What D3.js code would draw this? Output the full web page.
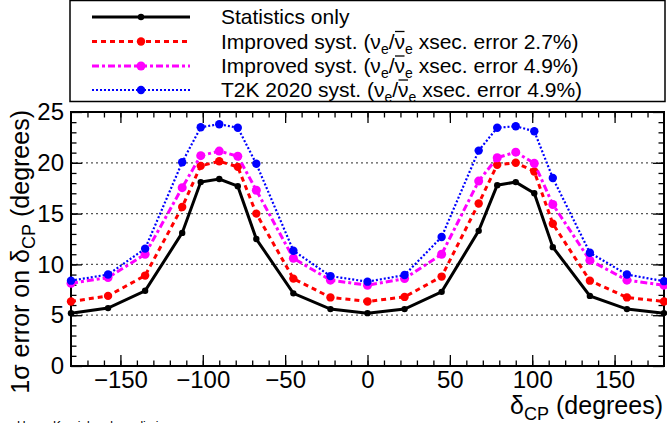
<!DOCTYPE html>
<html>
<head>
<meta charset="utf-8">
<script src="https://cdn.jsdelivr.net/npm/d3@7"></script>
<style>
  body { margin: 0; background: #fff; }
  svg { display: block; font-family: "Liberation Sans", Arial, sans-serif; }
</style>
</head>
<body>
<div id="chart"></div>
<script>
// delta_CP values (degrees)
const deltaCP = [-180, -157.5, -135, -112.5, -101.25, -90, -78.75, -67.5, -45, -22.5, 0,
                 22.5, 45, 67.5, 78.75, 90, 101.25, 112.5, 135, 157.5, 180];

// 1 sigma error on delta_CP (degrees)
const statOnly   = [5.2, 5.7, 7.4, 13.1, 18.1, 18.4, 17.7, 12.5, 7.15, 5.6, 5.2,
                    5.6, 7.3, 13.3, 17.8, 18.1, 17.0, 11.7, 6.9, 5.6, 5.2];
const improved27 = [6.35, 6.9, 8.9, 15.65, 19.7, 20.15, 19.6, 15.0, 8.6, 6.75, 6.35,
                    6.8, 8.8, 16.0, 19.8, 20.0, 19.15, 14.0, 8.4, 6.75, 6.35];
const improved49 = [8.15, 8.7, 11.0, 17.55, 20.7, 21.15, 20.65, 17.3, 10.6, 8.45, 7.95,
                    8.6, 11.0, 18.2, 20.5, 21.05, 19.95, 15.9, 10.4, 8.45, 7.95];
const t2k2020    = [8.4, 9.0, 11.55, 20.05, 23.5, 23.8, 23.45, 19.9, 11.35, 8.85, 8.3,
                    8.95, 12.7, 21.2, 23.45, 23.6, 23.1, 18.5, 11.15, 9.0, 8.35];

const xTicks = [-150, -100, -50, 0, 50, 100, 150];
const yTicks = [0, 5, 10, 15, 20, 25];

const seriesNames = [
  "Statistics only",
  "Improved syst. (ν_e/ν̄_e xsec. error 2.7%)",
  "Improved syst. (ν_e/ν̄_e xsec. error 4.9%)",
  "T2K 2020 syst. (ν_e/ν̄_e xsec. error 4.9%)"
];
const seriesValues = [statOnly, improved27, improved49, t2k2020];
const seriesStyle = [
  { color: "#000000", width: 3, dash: null, r: 3.2 },
  { color: "#ff0000", width: 3, dash: "5,4", r: 4.2 },
  { color: "#ff00ff", width: 3, dash: "7,3,3,3", r: 4.5 },
  { color: "#0000ff", width: 2.2, dash: "2,2", r: 4.2 }
];

const width = 667, height = 423;
const plot = { left: 71, right: 664, top: 112, bottom: 366 };

const svg = d3.select("#chart").append("svg")
  .attr("width", width)
  .attr("height", height);

const x = d3.scaleLinear().domain([-180, 180]).range([plot.left, plot.right]);
const y = d3.scaleLinear().domain([0, 25]).range([plot.bottom, plot.top]);

// Horizontal dotted grid
svg.append("g")
  .selectAll("line")
  .data(yTicks.filter(d => d > 0 && d < 25))
  .enter().append("line")
  .attr("x1", plot.left).attr("x2", plot.right)
  .attr("y1", d => y(d)).attr("y2", d => y(d))
  .attr("stroke", "#555")
  .attr("stroke-width", 1.2)
  .attr("stroke-dasharray", "2,3");

// Axes: major + minor ticks, pointing inwards
function drawAxis(axis, transform) {
  const g = svg.append("g").attr("transform", transform).call(axis);
  g.select(".domain").remove();
  g.selectAll(".tick line").attr("stroke", "#000").attr("stroke-width", 1.3);
  return g;
}
const minorX = d3.range(-170, 180, 10);
const minorY = d3.range(1, 25, 1);

// bottom
let gx = drawAxis(d3.axisBottom(x).tickValues(xTicks).tickSize(-11).tickPadding(5), `translate(0,${plot.bottom})`);
gx.selectAll("text").attr("font-size", 24).attr("fill", "#000").attr("dy", "0.71em");
drawAxis(d3.axisBottom(x).tickValues(minorX).tickSize(-5.5).tickFormat(""), `translate(0,${plot.bottom})`);
// top
drawAxis(d3.axisTop(x).tickValues(xTicks).tickSize(-11).tickFormat(""), `translate(0,${plot.top})`);
drawAxis(d3.axisTop(x).tickValues(minorX).tickSize(-5.5).tickFormat(""), `translate(0,${plot.top})`);
// left
let gy = drawAxis(d3.axisLeft(y).tickValues(yTicks).tickSize(-11).tickPadding(8), `translate(${plot.left},0)`);
gy.selectAll("text").attr("font-size", 24).attr("fill", "#000").attr("x", -7);
drawAxis(d3.axisLeft(y).tickValues(minorY).tickSize(-5.5).tickFormat(""), `translate(${plot.left},0)`);
// right
drawAxis(d3.axisRight(y).tickValues(yTicks).tickSize(-11).tickFormat(""), `translate(${plot.right},0)`);
drawAxis(d3.axisRight(y).tickValues(minorY).tickSize(-5.5).tickFormat(""), `translate(${plot.right},0)`);

// Frame
svg.append("rect")
  .attr("x", plot.left).attr("y", plot.top)
  .attr("width", plot.right - plot.left).attr("height", plot.bottom - plot.top)
  .attr("fill", "none").attr("stroke", "#000").attr("stroke-width", 2);

// Series lines and markers
const line = d3.line().x((d, i) => x(deltaCP[i])).y(d => y(d));
seriesValues.forEach((vals, k) => {
  const st = seriesStyle[k];
  svg.append("path")
    .datum(vals)
    .attr("d", line)
    .attr("fill", "none")
    .attr("stroke", st.color)
    .attr("stroke-width", st.width)
    .attr("stroke-dasharray", st.dash);
  svg.append("g").selectAll("circle")
    .data(vals)
    .enter().append("circle")
    .attr("cx", (d, i) => x(deltaCP[i]))
    .attr("cy", d => y(d))
    .attr("r", st.r)
    .attr("fill", st.color);
});

// Axis titles
const xt = svg.append("text")
  .attr("x", 663).attr("y", 414)
  .attr("text-anchor", "end")
  .attr("font-size", 25);
xt.append("tspan").text("δ");
xt.append("tspan").attr("font-size", 18).attr("dy", 6).text("CP");
xt.append("tspan").attr("dy", -6).text(" (degrees)");

const yt = svg.append("text")
  .attr("transform", "translate(29,110) rotate(-90)")
  .attr("text-anchor", "end")
  .attr("font-size", 25);
yt.append("tspan").text("1σ error on δ");
yt.append("tspan").attr("font-size", 18).attr("dy", 6).text("CP");
yt.append("tspan").attr("dy", -6).text(" (degrees)");

// Cut-off label at the bottom edge
svg.append("text")
  .attr("x", 17).attr("y", 430)
  .attr("font-size", 12)
  .attr("fill", "#000")
  .text("Hyper-Kamiokande preliminary");

// Legend
const legend = svg.append("g");
legend.append("rect")
  .attr("x", plot.left - 1).attr("y", 0.5)
  .attr("width", 665 - plot.left + 1).attr("height", 101)
  .attr("fill", "#fff").attr("stroke", "#000").attr("stroke-width", 1.5);

const rowBase = [24, 48.5, 73, 97];
seriesNames.forEach((name, k) => {
  const st = seriesStyle[k];
  const ly = rowBase[k] - 7;
  legend.append("line")
    .attr("x1", 92).attr("x2", 190).attr("y1", ly).attr("y2", ly)
    .attr("stroke", st.color).attr("stroke-width", st.width)
    .attr("stroke-dasharray", st.dash);
  legend.append("circle")
    .attr("cx", 141).attr("cy", ly).attr("r", st.r).attr("fill", st.color);

  const t = legend.append("text")
    .attr("x", 221).attr("y", rowBase[k])
    .attr("font-size", 21);
  if (k === 0) {
    t.text(name);
  } else {
    const pre = name.split("(")[0];
    const pct = name.match(/error [0-9.]+%\)/)[0];
    t.append("tspan").text(pre + "(ν");
    t.append("tspan").attr("font-size", 14).attr("dy", 5).text("e");
    t.append("tspan").attr("dy", -5).text("/");
    const nubar = t.append("tspan").text("ν");
    t.append("tspan").attr("font-size", 14).attr("dy", 5).text("e");
    t.append("tspan").attr("dy", -5).text(" xsec. " + pct);
    // overline above the anti-neutrino symbol
    const bb = nubar.node().getBBox();
    legend.append("line")
      .attr("x1", bb.x + 0.5).attr("x2", bb.x + bb.width - 0.5)
      .attr("y1", rowBase[k] - 17).attr("y2", rowBase[k] - 17)
      .attr("stroke", "#000").attr("stroke-width", 1.3);
  }
});
</script>
</body>
</html>
